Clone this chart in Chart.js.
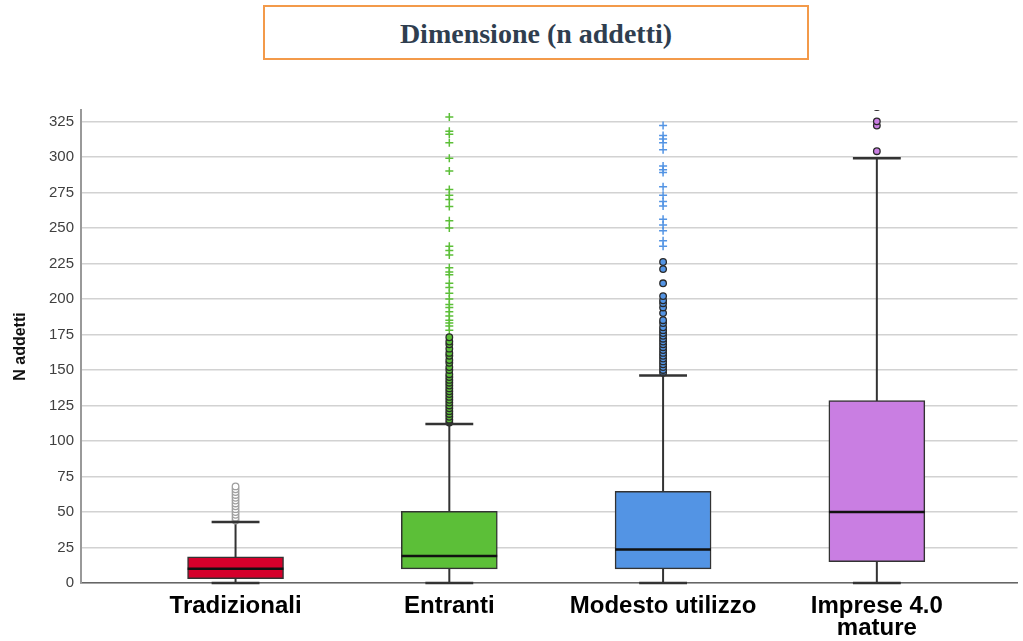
<!DOCTYPE html>
<html>
<head>
<meta charset="utf-8">
<script src="https://cdn.jsdelivr.net/npm/chart.js@4.4.1/dist/chart.umd.min.js"></script>
<style>
  html, body { margin: 0; padding: 0; background: #ffffff; }
  #wrap { position: relative; width: 1023px; height: 641px; overflow: hidden; }
  #c { position: absolute; left: 0; top: 0; }
  #title {
    position: absolute; left: 263px; top: 5px; width: 542px; height: 51px;
    border: 2px solid #f39a4a; background: #fff;
    font-family: "Liberation Serif", "DejaVu Serif", serif; font-weight: bold;
    font-size: 28px; color: #2f3e4f; text-align: center; line-height: 53px;
  }
</style>
</head>
<body>
<div id="wrap">
  <canvas id="c" width="1023" height="641"></canvas>
  <div id="title">Dimensione (n addetti)</div>
</div>
<script>
// ---- data ----
const categories = ['Tradizionali', 'Entranti', 'Modesto utilizzo', 'Imprese 4.0\nmature'];
const whiskerLow  = [0, 0, 0, 0];
const q1          = [3, 10, 10, 15];
const median      = [10, 19, 23.5, 50];
const q3          = [18.5, 50.5, 64.5, 128.5];
const whiskerHigh = [43, 112, 146, 299];
const outliersTradizionali = [44, 46, 48, 50, 52, 54, 56, 58, 60, 62, 64, 66, 68];
const outliersEntranti = [113, 115, 117, 119, 121, 123, 125, 127, 129, 131, 133, 135, 137, 139, 141, 143, 145, 147, 150, 152, 155, 157, 160, 162, 165, 168, 170, 173];
const outliersModesto = [148, 150, 152, 154, 156, 158, 160, 162, 164, 166, 168, 170, 172, 174, 176, 178, 180, 183, 185, 190, 194, 197, 199, 202, 211, 221, 226];
const outliersImprese = [304, 322, 325, 335];
const extremesTradizionali = [];
const extremesEntranti = [328, 318, 316, 310, 299, 290, 277, 273, 270, 265, 255, 250, 237, 234, 231, 222, 219, 217, 211, 208, 204, 200, 196, 194, 191, 188, 185, 183, 181, 178];
const extremesModesto = [322, 315, 312.5, 310, 305, 293.5, 291, 289, 279, 273, 268.5, 265.5, 256, 252, 248, 241, 237];
const extremesImprese = [];
const yTickValues = [0, 25, 50, 75, 100, 125, 150, 175, 200, 225, 250, 275, 300, 325];

const outliers = [outliersTradizionali, outliersEntranti, outliersModesto, outliersImprese];
const extremes = [extremesTradizionali, extremesEntranti, extremesModesto, extremesImprese];

// ---- styles ----
const boxColors = ['#d5002b', '#5cbf38', '#5394e4', '#c97ee2'];
const outlierFill = ['#ffffff', '#5cbf38', '#5394e4', '#c97ee2'];
const outlierBorder = ['#a0a0a0', '#2a2a2a', '#2a2a2a', '#2a2a2a'];
const boxHalf = 0.224;
const capHalf = 0.112;

const whiskerPts = [];
const capPts = [];
const medianPts = [];
categories.forEach((_, i) => {
  whiskerPts.push({x: i, y: whiskerLow[i]}, {x: i, y: whiskerHigh[i]}, {x: i, y: null});
  capPts.push({x: i - capHalf, y: whiskerLow[i]}, {x: i + capHalf, y: whiskerLow[i]}, {x: i, y: null});
  capPts.push({x: i - capHalf, y: whiskerHigh[i]}, {x: i + capHalf, y: whiskerHigh[i]}, {x: i, y: null});
  medianPts.push({x: i - boxHalf, y: median[i]}, {x: i + boxHalf, y: median[i]}, {x: i, y: null});
});

const datasets = [
  { type: 'line', data: whiskerPts, borderColor: '#333333', borderWidth: 2, pointRadius: 0, spanGaps: false, order: 5 },
  { type: 'line', data: capPts, borderColor: '#333333', borderWidth: 2.5, pointRadius: 0, spanGaps: false, order: 0, clip: 4 },
  { type: 'bar', data: categories.map((_, i) => ({x: i, y: [q1[i], q3[i]]})),
    backgroundColor: boxColors, borderColor: '#333333', borderWidth: 1.5, borderSkipped: false,
    barThickness: 96, order: 4 },
  { type: 'line', data: medianPts, borderColor: '#111111', borderWidth: 2.5, pointRadius: 0, spanGaps: false, order: 3 }
];
categories.forEach((_, i) => {
  datasets.push({ type: 'scatter', data: outliers[i].map(v => ({x: i, y: v})),
    pointStyle: 'circle', pointRadius: 3.3, backgroundColor: outlierFill[i],
    borderColor: outlierBorder[i], borderWidth: 1.3, order: 1 });
  datasets.push({ type: 'scatter', data: extremes[i].map(v => ({x: i, y: v})),
    pointStyle: 'cross', pointRadius: 4, borderColor: boxColors[i], backgroundColor: boxColors[i],
    borderWidth: 1.5, order: 1 });
});

new Chart(document.getElementById('c'), {
  type: 'bar',
  data: { datasets },
  options: {
    responsive: false,
    animation: false,
    devicePixelRatio: 1,
    layout: { padding: { top: 110, right: 3, left: 0, bottom: 0 } },
    plugins: { legend: { display: false }, tooltip: { enabled: false }, title: { display: false } },
    scales: {
      x: {
        type: 'linear', min: -0.723, max: 3.658, offset: false,
        grid: { display: false, drawTicks: false },
        border: { display: true, color: '#666666', width: 1.5 },
        afterBuildTicks: s => { s.ticks = categories.map((_, i) => ({value: i})); },
        afterFit: s => { s.height = 58; },
        ticks: {
          autoSkip: false, maxRotation: 0, padding: 12,
          color: '#000000',
          font: { family: 'Liberation Sans, Arial, sans-serif', size: 24, weight: 'bold', lineHeight: 0.92 },
          callback: v => (categories[v] !== undefined ? categories[v].split('\n') : '')
        }
      },
      y: {
        type: 'linear', min: 0, max: 333,
        grid: { color: '#d2d2d2', lineWidth: 1.5, drawTicks: false },
        border: { display: true, color: '#999999', width: 2 },
        afterBuildTicks: s => { s.ticks = yTickValues.map(v => ({value: v})); },
        afterFit: s => { s.width = 81; },
        ticks: {
          padding: 7, color: '#404040',
          font: { family: 'Liberation Sans, Arial, sans-serif', size: 15 }
        },
        title: {
          display: true, text: 'N addetti', color: '#111111',
          font: { family: 'Liberation Sans, Arial, sans-serif', size: 16, weight: 'bold' },
          padding: { top: 11, bottom: 0 }
        }
      }
    }
  }
});
</script>
</body>
</html>
